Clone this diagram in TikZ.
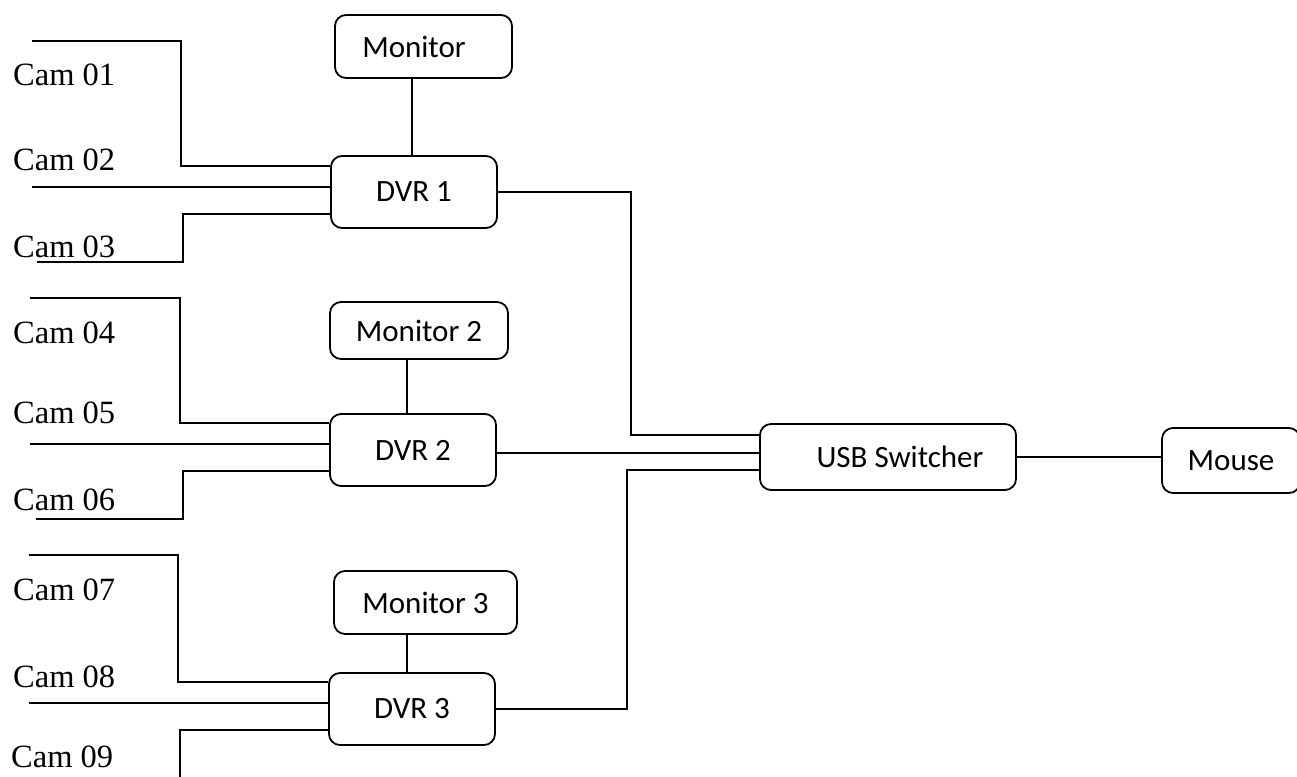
\documentclass[tikz,border=0pt]{standalone}
\usepackage{fontspec}
\setmainfont{Liberation Serif}
\newfontfamily\boxfont{Carlito}
\usetikzlibrary{calc}
\begin{document}
\begin{tikzpicture}[x=1pt,y=-1pt,
  box/.style={draw, line width=1.8pt, rounded corners=11pt, inner sep=0pt,
    font=\boxfont\fontsize{31}{34}\selectfont, anchor=center},
  camlabel/.style={anchor=west, inner sep=0pt, font=\fontsize{32.5}{36}\selectfont},
  wire/.style={line width=1.9pt},
  thinwire/.style={line width=1.2pt}]
\useasboundingbox (0,0) rectangle (1297,776);
\clip (0,0) rectangle (1297,776);

% boxes
\node[box, minimum width=177pt, minimum height=63pt] (mon1) at (423.5,46.5) {\raisebox{-3pt}{Monitor}\rule{19pt}{0pt}};
\node[box, minimum width=166pt, minimum height=72pt] (dvr1) at (414,192) {DVR 1};
\node[box, minimum width=178pt, minimum height=57pt] (mon2) at (419,330.5) {Monitor 2};
\node[box, minimum width=166pt, minimum height=72pt] (dvr2) at (413,450) {DVR 2};
\node[box, minimum width=183pt, minimum height=63pt] (mon3) at (425.5,602.5) {Monitor 3};
\node[box, minimum width=166pt, minimum height=72pt] (dvr3) at (412,709) {DVR 3};
\node[box, minimum width=256pt, minimum height=66pt] (usb) at (888,457) {\rule{24pt}{0pt}USB Switcher};
\node[box, minimum width=138pt, minimum height=65pt] (mouse) at (1231,460.5) {\raisebox{-2pt}{Mouse}};

% camera labels
\node[camlabel] (l1) at (13,75) {Cam 01};
\node[camlabel] (l2) at (13,160) {Cam 02};
\node[camlabel] (l3) at (13,247) {Cam 03};
\node[camlabel] (l4) at (13,333) {Cam 04};
\node[camlabel] (l5) at (13,413) {Cam 05};
\node[camlabel] (l6) at (13,500) {Cam 06};
\node[camlabel] (l7) at (13,590) {Cam 07};
\node[camlabel] (l8) at (13,677) {Cam 08};
\node[camlabel] (l9) at (11,757) {Cam 09};

% free wire ends
\coordinate (c1) at (32,41);
\coordinate (c2) at (32,187);
\coordinate (c3) at (37,262);
\coordinate (c4) at (30,298);
\coordinate (c5) at (30,444);
\coordinate (c6) at (36,519);
\coordinate (c7) at (29,555);
\coordinate (c8) at (29,703);
\coordinate (c9) at (180,780);

% DVR 1 inputs
\draw[wire] (c1) -- (181,41) -- (181,166) -- ($(dvr1.west)+(0,-26)$);
\draw[wire] (c2) -- ($(dvr1.west)+(0,-5)$);
\draw[wire] ($(dvr1.west)+(0,22)$) -- (183,214) -- (183,262) -- (c3);
% DVR 2 inputs
\draw[wire] (c4) -- (180,298) -- (180,423) -- ($(dvr2.west)+(0,-27)$);
\draw[wire] (c5) -- ($(dvr2.west)+(0,-6)$);
\draw[wire] ($(dvr2.west)+(0,21)$) -- (183,471) -- (183,519) -- (c6);
% DVR 3 inputs
\draw[wire] (c7) -- (178,555) -- (178,682) -- ($(dvr3.west)+(0,-27)$);
\draw[wire] (c8) -- ($(dvr3.west)+(0,-6)$);
\draw[wire] ($(dvr3.west)+(0,21)$) -- (180,730) -- (c9);

% monitors
\draw[thinwire] ($(dvr1.north)+(-2,0)$) -- ($(mon1.south)+(-11.5,0)$);
\draw[thinwire] ($(dvr2.north)+(-6,0)$) -- ($(mon2.south)+(-12,0)$);
\draw[thinwire] ($(dvr3.north)+(-5,0)$) -- ($(mon3.south)+(-18.5,0)$);

% DVRs to USB switcher
\draw[wire] (dvr1.east) -- (631,192) -- (631,435) -- ($(usb.west)+(0,-22)$);
\draw[wire] ($(dvr2.east)+(0,3)$) -- ($(usb.west)+(0,-4)$);
\draw[wire] (dvr3.east) -- (627,709) -- (627,470) -- ($(usb.west)+(0,13)$);

% USB to mouse
\draw[wire] (usb.east) -- (usb.east -| mouse.west);
\end{tikzpicture}
\end{document}
